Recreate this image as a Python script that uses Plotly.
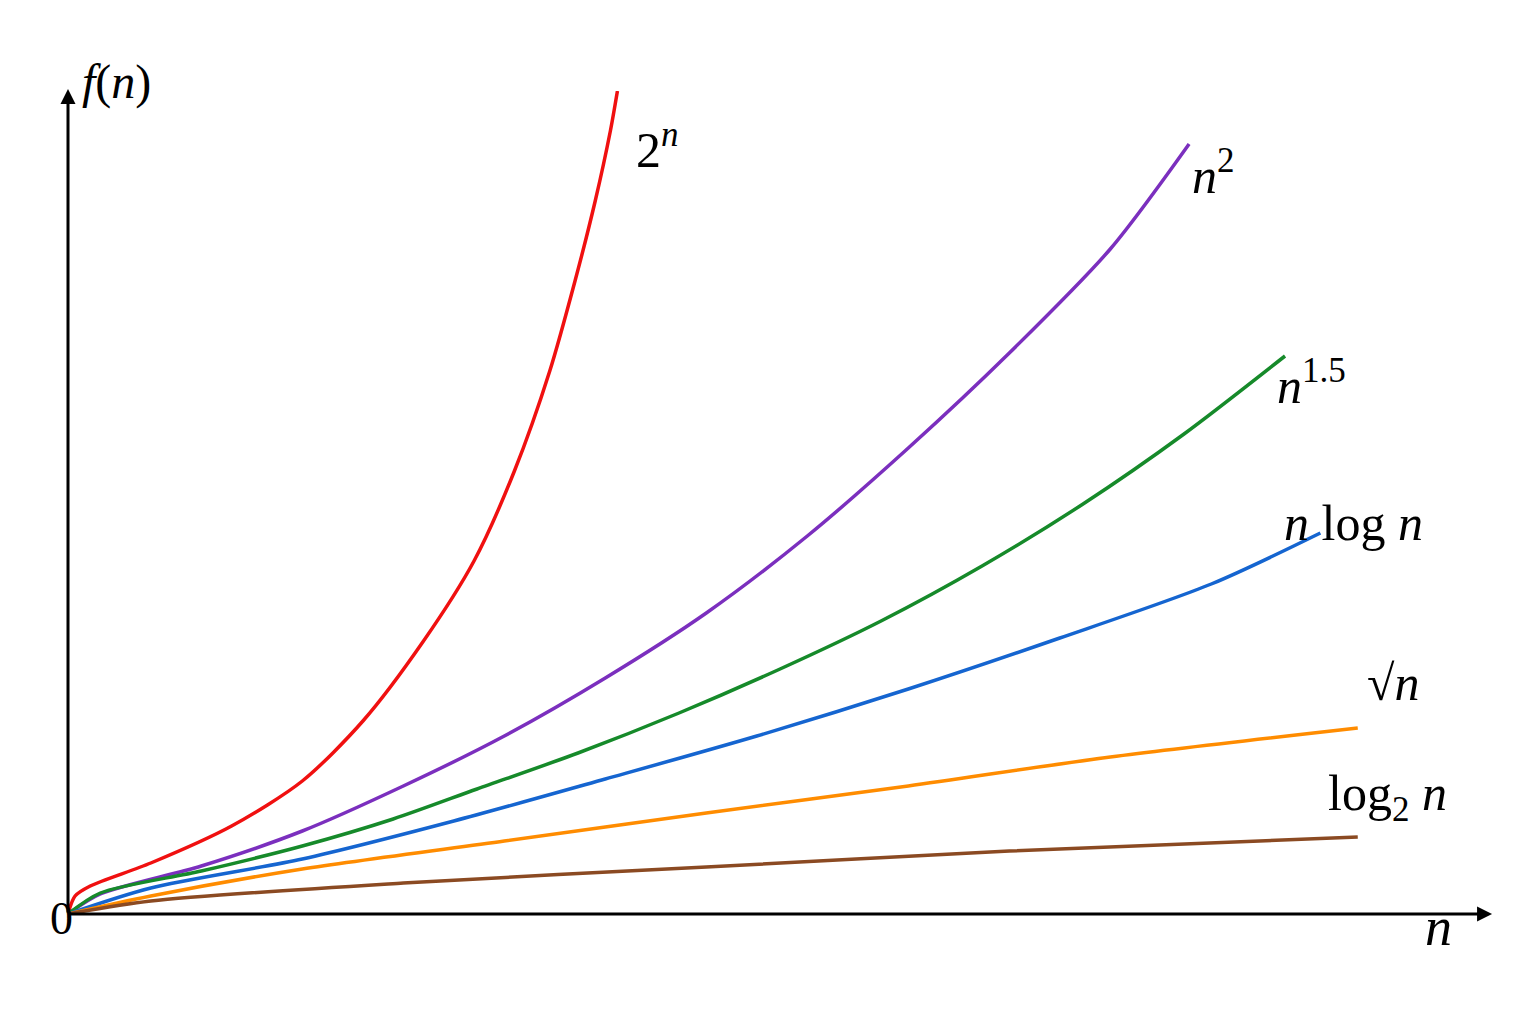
import plotly.graph_objects as go

px_red = [68,75,90,150,230,300,360,420,470,510,545,570,590,605,612]
py_red = [913,895,885,862,825,780,720,640,560,470,370,280,200,130,90]
px_pur = [68,100,200,300,400,500,600,700,800,900,1000,1100,1178]
py_pur = [913,893,865,830,785,735,677,612,535,447,352,248,143]
px_grn = [68,100,200,300,390,473,573,673,773,873,973,1073,1173,1273]
py_grn = [913,892,870,845,818,788,752,712,668,620,565,503,433,355]
px_blu = [68,150,300,450,600,750,900,1050,1200,1308]
py_blu = [913,887,858,820,778,735,688,637,583,532]
px_org = [68,150,300,500,700,900,1100,1345]
py_org = [913,895,868,840,812,785,756,727]
px_brn = [68,150,400,700,1000,1345]
py_brn = [913,900,882,866,850,836]

series = [
    (px_red, py_red, "#f01010", "2<sup><i>n</i></sup>", 652, 112),
    (px_pur, py_pur, "#7b2fbe", "<i>n</i><sup>2</sup>", 1225, 138),
    (px_grn, py_grn, "#168a2a", "<i>n</i><sup>1.5</sup>", 1335, 348),
    (px_blu, py_blu, "#1565d0", "<i>n</i> log <i>n</i>", 1412, 522),
    (px_org, py_org, "#ff8c00", "√<i>n</i>", 1408, 712),
    (px_brn, py_brn, "#8b4a22", "log<sub>2</sub> <i>n</i>", 1435, 830),
]

W, H = 1536, 1024
def P(x, y):
    return dict(xref="paper", yref="paper", x=(x - 68) / 1402, y=(913 - y) / 823)

fig = go.Figure()
ann = []
F = "Liberation Serif"
for xs, ys, c, lab, lx, ly in series:
    fig.add_trace(go.Scatter(x=[v - 68 for v in xs], y=[913 - v for v in ys], mode="lines",
                             line=dict(color=c, width=3.5, shape="spline", smoothing=0.8), showlegend=False))
    a = P(lx, ly); a.update(text=lab, showarrow=False, font=dict(size=50, family=F, color="black"))
    ann.append(a)

ann.append(dict(x=1410, y=0, ax=0, ay=0, axref="x", ayref="y", showarrow=True,
                arrowhead=2, arrowsize=1, arrowwidth=3, arrowcolor="black", text=""))
ann.append(dict(x=0, y=825, ax=0, ay=0, axref="x", ayref="y", showarrow=True,
                arrowhead=2, arrowsize=1, arrowwidth=3, arrowcolor="black", text=""))
for x, y, t, s in [(48, 945, "0", 46), (1440, 958, "<i>n</i>", 54), (80, 52, "<i>f</i>(<i>n</i>)", 48)]:
    a = P(x, y); a.update(text=t, showarrow=False, font=dict(size=s, family=F, color="black"))
    ann.append(a)

fig.update_layout(width=W, height=H, paper_bgcolor="white", plot_bgcolor="white",
                  margin=dict(l=60, r=60, t=83, b=118, pad=0), annotations=ann,
                  xaxis=dict(range=[0, 1402], visible=False),
                  yaxis=dict(range=[0, 823], visible=False))
fig.write_html("out.html")
